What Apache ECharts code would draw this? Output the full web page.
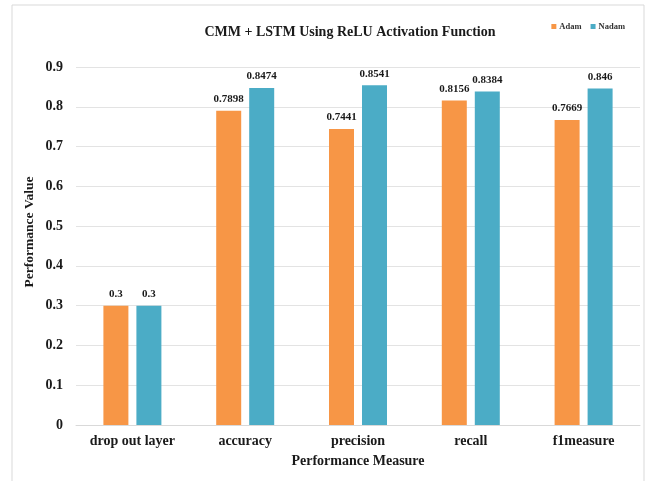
<!DOCTYPE html>
<html>
<head>
<meta charset="utf-8">
<script src="https://cdn.jsdelivr.net/npm/echarts@6/dist/echarts.min.js"></script>
<style>
  html, body { margin: 0; padding: 0; background: #ffffff; }
  #chart { width: 650px; height: 481px; }
</style>
</head>
<body>
<div id="chart"></div>
<script>
// Performance measures compared for two optimizers
const categories = ['drop out layer', 'accuracy', 'precision', 'recall', 'f1measure'];
const adamValues = [0.3, 0.7898, 0.7441, 0.8156, 0.7669];
const nadamValues = [0.3, 0.8474, 0.8541, 0.8384, 0.846];
const yTicks = [0, 0.1, 0.2, 0.3, 0.4, 0.5, 0.6, 0.7, 0.8, 0.9];

const serif = '"Liberation Serif", "Times New Roman", serif';
const chart = echarts.init(document.getElementById('chart'));

const labelStyle = {
  show: true,
  position: 'top',
  distance: 6,
  fontFamily: serif,
  fontWeight: 'bold',
  fontSize: 11,
  color: '#1a1a1a'
};

chart.setOption({
  animation: false,
  graphic: [
    {
      type: 'rect',
      shape: { x: 12, y: 5, width: 632, height: 490 },
      style: { fill: 'none', stroke: '#d9d9d9', lineWidth: 1 },
      silent: true,
      z: -1
    },
    {
      // vertical axis title, sitting a little above the plot's middle
      type: 'text',
      x: 30,
      y: 232,
      rotation: Math.PI / 2,
      style: {
        text: 'Performance Value',
        fontFamily: serif,
        fontWeight: 'bold',
        fontSize: 13.5,
        fill: '#1a1a1a',
        align: 'center',
        verticalAlign: 'middle'
      },
      silent: true
    }
  ],
  title: {
    text: 'CMM + LSTM Using ReLU Activation Function',
    left: 345,
    textAlign: 'center',
    top: 20,
    textStyle: { fontFamily: serif, fontWeight: 'bold', fontSize: 14, color: '#1a1a1a' }
  },
  legend: {
    right: 20,
    top: 17,
    itemWidth: 5,
    itemHeight: 5,
    itemGap: 9,
    icon: 'rect',
    textStyle: { fontFamily: serif, fontWeight: 'bold', fontSize: 8.5, color: '#333', padding: [0, 0, 0, -2] },
    data: ['Adam', 'Nadam']
  },
  grid: { left: 76, right: 10, top: 67, bottom: 56, containLabel: false },
  xAxis: {
    type: 'category',
    data: categories,
    name: 'Performance Measure',
    nameLocation: 'middle',
    nameGap: 29,
    nameTextStyle: { fontFamily: serif, fontWeight: 'bold', fontSize: 14, color: '#1a1a1a' },
    axisLine: { lineStyle: { color: '#d9d9d9' } },
    axisTick: { show: false },
    axisLabel: { fontFamily: serif, fontWeight: 'bold', fontSize: 14, color: '#1a1a1a', margin: 9 }
  },
  yAxis: {
    type: 'value',
    min: yTicks[0],
    max: yTicks[yTicks.length - 1],
    interval: 0.1,
    axisLine: { show: false },
    axisTick: { show: false },
    splitLine: { lineStyle: { color: '#e3e3e3' } },
    axisLabel: {
      fontFamily: serif, fontWeight: 'bold', fontSize: 14, color: '#1a1a1a', margin: 13,
      formatter: v => String(Math.round(v * 10) / 10)
    }
  },
  series: [
    {
      name: 'Adam',
      type: 'bar',
      data: adamValues,
      barWidth: 25,
      barGap: '32%',
      itemStyle: { color: '#F79646' },
      label: labelStyle
    },
    {
      name: 'Nadam',
      type: 'bar',
      data: nadamValues,
      barWidth: 25,
      itemStyle: { color: '#4BACC6' },
      label: labelStyle
    }
  ]
});
</script>
</body>
</html>
